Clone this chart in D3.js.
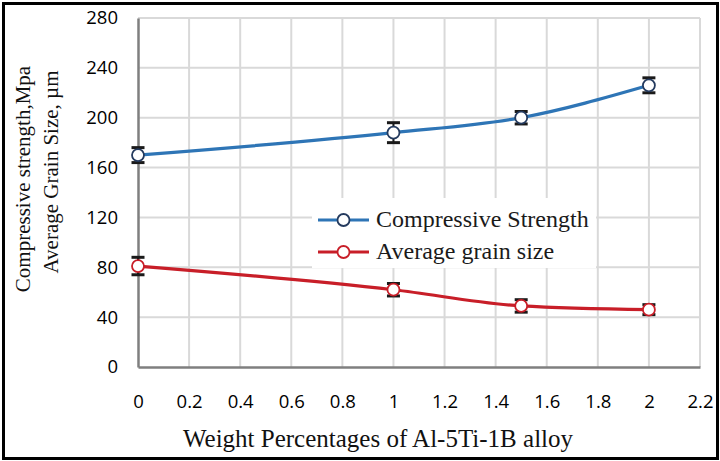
<!DOCTYPE html>
<html>
<head>
<meta charset="utf-8">
<script src="https://cdn.jsdelivr.net/npm/d3@7/dist/d3.min.js"></script>
<style>
  html, body { margin: 0; padding: 0; background: #fff; }
  svg { display: block; }
</style>
</head>
<body>
<svg id="chart" width="720" height="461"></svg>
<script>
// Weight percentage of Al-5Ti-1B added
const weightPct = [0, 1, 1.5, 2];
// Compressive strength (MPa) and its error
const strength = [170, 188, 200, 226];
const strengthErr = [6, 8, 5, 6];
// Average grain size (µm) and its error
const grainSize = [81, 62, 49, 46];
const grainErr = [7, 5, 5, 4];

const xTicks = [0, 0.2, 0.4, 0.6, 0.8, 1, 1.2, 1.4, 1.6, 1.8, 2, 2.2];
const yTicks = [0, 40, 80, 120, 160, 200, 240, 280];

const seriesNames = ["Compressive Strength", "Average grain size"];
const lineColors = ["#2e75b6", "#c81e28"];
const markerStrokes = ["#243a5e", "#c81e28"];

const svg = d3.select("#chart");
const W = 720, H = 461;
const serif = "'Liberation Serif', 'Times New Roman', serif";
const sans = "'Open Sans', sans-serif";

const x = d3.scaleLinear().domain([0, 2.2]).range([138, 700]);
const y = d3.scaleLinear().domain([0, 280]).range([367, 18]);

// outer frame
svg.append("rect")
  .attr("x", 3.5).attr("y", 3.5).attr("width", W - 6).attr("height", H - 6)
  .attr("fill", "#fff").attr("stroke", "#000").attr("stroke-width", 3);

// gridlines
const grid = svg.append("g");
grid.selectAll("line.v").data(xTicks.slice(1)).join("line")
  .attr("x1", d => x(d)).attr("x2", d => x(d))
  .attr("y1", y(0)).attr("y2", y(280))
  .attr("stroke", "#d9d9d9").attr("stroke-width", 2);
grid.selectAll("line.h").data(yTicks.slice(1)).join("line")
  .attr("x1", x(0)).attr("x2", x(2.2))
  .attr("y1", d => y(d)).attr("y2", d => y(d))
  .attr("stroke", "#d9d9d9").attr("stroke-width", 2);

// axes
const xAxis = d3.axisBottom(x).tickValues(xTicks).tickSize(0).tickPadding(28)
  .tickFormat(d => d3.format("~g")(d));
const gx = svg.append("g").attr("transform", `translate(0,${y(0)})`).call(xAxis);
gx.select(".domain").attr("stroke", "#7f7f7f").attr("stroke-width", 2.5);
gx.selectAll("text").attr("font-family", sans)
  .attr("font-size", 18.5).attr("fill", "#000");

const yAxis = d3.axisLeft(y).tickValues(yTicks).tickSize(0).tickPadding(20);
const gy = svg.append("g").attr("transform", `translate(${x(0)},0)`).call(yAxis);
gy.select(".domain").attr("stroke", "#7f7f7f").attr("stroke-width", 2.5);
gy.selectAll("text").attr("font-family", sans)
  .attr("font-size", 18.5).attr("fill", "#000");

// axis titles
svg.append("text")
  .attr("x", 378).attr("y", 447)
  .attr("text-anchor", "middle")
  .attr("font-family", serif)
  .attr("font-size", 25).attr("fill", "#111")
  .text("Weight Percentages of Al-5Ti-1B alloy");

const yTitleLines = [
  { text: "Compressive strength,Mpa", base: 30, mid: 179 },
  { text: "Average Grain Size, µm", base: 58, mid: 172 }
];
yTitleLines.forEach(t => {
  svg.append("text")
    .attr("transform", `translate(${t.base},${t.mid}) rotate(-90)`)
    .attr("text-anchor", "middle")
    .attr("font-family", serif)
    .attr("font-size", 21).attr("fill", "#111")
    .text(t.text);
});

// series
const series = [
  { values: strength, err: strengthErr },
  { values: grainSize, err: grainErr }
];

const line = d3.line()
  .x(d => x(d[0])).y(d => y(d[1]))
  .curve(d3.curveMonotoneX);

series.forEach((s, i) => {
  const pts = weightPct.map((w, j) => [w, s.values[j], s.err[j]]);
  const g = svg.append("g");
  g.append("path")
    .attr("d", line(pts))
    .attr("fill", "none")
    .attr("stroke", lineColors[i])
    .attr("stroke-width", 3.2);

  // error bars
  const eb = g.selectAll("g.err").data(pts).join("g");
  eb.append("line")
    .attr("x1", d => x(d[0])).attr("x2", d => x(d[0]))
    .attr("y1", d => y(d[1] - d[2])).attr("y2", d => y(d[1] + d[2]))
    .attr("stroke", "#1a1a1a").attr("stroke-width", 2);
  [-1, 1].forEach(sgn => {
    eb.append("line")
      .attr("x1", d => x(d[0]) - 6.5).attr("x2", d => x(d[0]) + 6.5)
      .attr("y1", d => y(d[1] + sgn * d[2])).attr("y2", d => y(d[1] + sgn * d[2]))
      .attr("stroke", "#1a1a1a").attr("stroke-width", 3);
  });

  g.selectAll("circle").data(pts).join("circle")
    .attr("cx", d => x(d[0])).attr("cy", d => y(d[1]))
    .attr("r", 6)
    .attr("fill", "#fff")
    .attr("stroke", markerStrokes[i])
    .attr("stroke-width", 1.8);
});

// legend
const legend = svg.append("g");
legend.append("rect")
  .attr("x", 312).attr("y", 198).attr("width", 284).attr("height", 70)
  .attr("fill", "#fff");
seriesNames.forEach((name, i) => {
  const ly = 220 + i * 32;
  legend.append("line")
    .attr("x1", 318).attr("x2", 369).attr("y1", ly).attr("y2", ly)
    .attr("stroke", lineColors[i]).attr("stroke-width", 3.2);
  legend.append("circle")
    .attr("cx", 343.5).attr("cy", ly).attr("r", 6)
    .attr("fill", "#fff").attr("stroke", markerStrokes[i]).attr("stroke-width", 1.8);
  legend.append("text")
    .attr("x", 376).attr("y", ly + 7)
    .attr("font-family", serif)
    .attr("font-size", 24).attr("fill", "#1a1a1a")
    .text(name);
});
</script>
</body>
</html>
